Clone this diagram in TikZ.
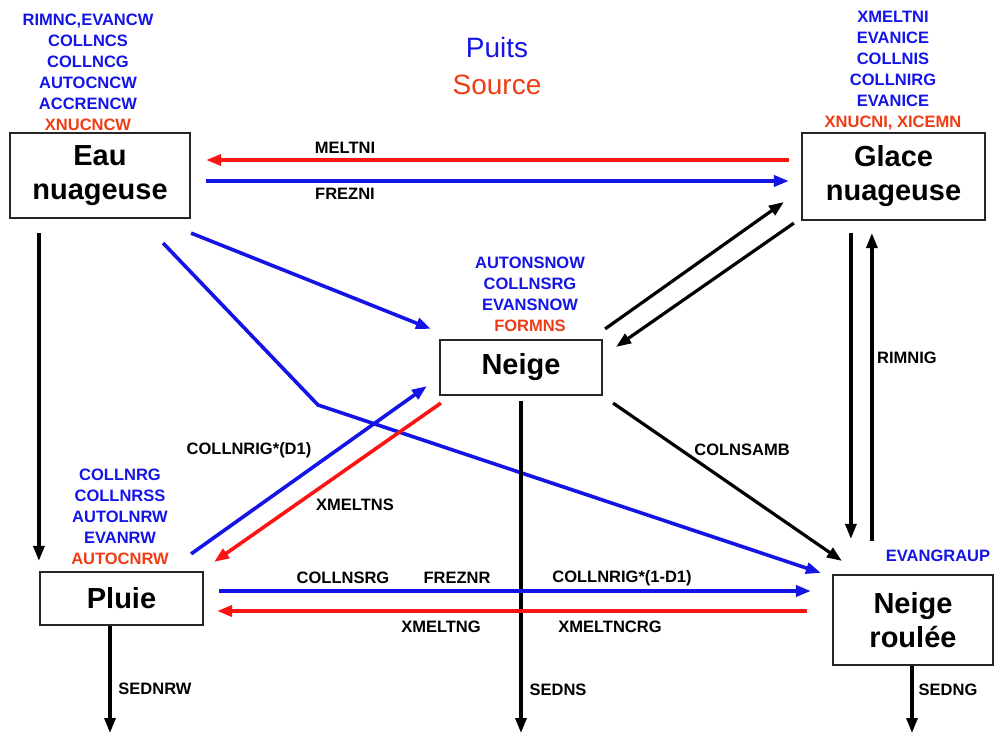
\documentclass[tikz,border=0pt]{standalone}
\usepackage{fontspec}
\setmainfont{Liberation Sans}
\usetikzlibrary{calc,arrows.meta}
\definecolor{pblue}{RGB}{20,20,230}
\definecolor{pred}{RGB}{250,20,20}
\definecolor{lred}{RGB}{240,60,20}
\tikzset{
  box/.style={draw=black!85,line width=2.2pt,fill=white,inner sep=0pt,align=center,
    font=\fontsize{29}{34}\selectfont\bfseries},
  lab/.style={inner sep=0pt,align=center,font=\fontsize{16.5}{21}\selectfont\bfseries},
  tip/.style={-{Triangle[length=15pt,width=11pt]}},
  barr/.style={tip,draw=pblue,line width=3.6pt},
  rarr/.style={tip,draw=pred,line width=3.6pt},
  karr/.style={tip,draw=black,line width=3.2pt},
}
\begin{document}
\begin{tikzpicture}[x=1pt,y=-1pt]
\useasboundingbox (0,0) rectangle (994,735);
% boxes
\node[box,minimum width=180pt,minimum height=85pt] (eau) at (100,175.5) {Eau\\nuageuse};
\node[box,minimum width=183pt,minimum height=87pt] (glace) at (893.5,176.5) {Glace\\nuageuse};
\node[box,minimum width=162pt,minimum height=55pt] (neige) at (521,367.5) {Neige};
\node[box,minimum width=163pt,minimum height=53pt] (pluie) at (121.5,598.5) {Pluie};
\node[box,minimum width=160pt,minimum height=90pt] (roulee) at (913,620) {Neige\\roul\'ee};
% legend
\node[inner sep=0pt,font=\fontsize{28}{30}\selectfont,text=pblue] (puits) at (497,47) {Puits};
\node[inner sep=0pt,font=\fontsize{28}{30}\selectfont,text=lred] (source) at (497,85) {Source};
% label stacks
\node[lab,anchor=south] (eaulab) at (88,131) {\textcolor{pblue}{RIMNC,EVANCW}\\\textcolor{pblue}{COLLNCS}\\\textcolor{pblue}{COLLNCG}\\\textcolor{pblue}{AUTOCNCW}\\\textcolor{pblue}{ACCRENCW}\\\textcolor{lred}{XNUCNCW}};
\node[lab,anchor=south] (glacelab) at (893,130) {\textcolor{pblue}{XMELTNI}\\\textcolor{pblue}{EVANICE}\\\textcolor{pblue}{COLLNIS}\\\textcolor{pblue}{COLLNIRG}\\\textcolor{pblue}{EVANICE}\\\textcolor{lred}{XNUCNI, XICEMN}};
\node[lab,anchor=south] (neigelab) at (530,332) {\textcolor{pblue}{AUTONSNOW}\\\textcolor{pblue}{COLLNSRG}\\\textcolor{pblue}{EVANSNOW}\\\textcolor{lred}{FORMNS}};
\node[lab,anchor=south] (pluielab) at (120,565) {\textcolor{pblue}{COLLNRG}\\\textcolor{pblue}{COLLNRSS}\\\textcolor{pblue}{AUTOLNRW}\\\textcolor{pblue}{EVANRW}\\\textcolor{lred}{AUTOCNRW}};
\node[lab,text=pblue] (evg) at (938,556) {EVANGRAUP};
% connectors
\coordinate (bend) at (318,405);
\coordinate (nsend) at (521,733);
\coordinate (psend) at (110,733);
\coordinate (rsend) at (912,733);
\draw[rarr] ($(glace.west)+(-12,-16.5)$) -- ($(eau.east)+(15,-15.5)$);
\draw[barr] ($(eau.east)+(15,5.5)$) -- ($(glace.west)+(-12,4.5)$);
\draw[karr] ($(eau.south west)+(30,14)$) -- ($(pluie.north west)+(0,-10)$);
\draw[barr] ($(eau.south east)+(0,14)$) -- ($(neige.north west)+(-8,-10)$);
\draw[barr] ($(eau.south east)+(-28,24)$) -- (bend) -- ($(roulee.north west)+(-11,-1)$);
\draw[karr] ($(neige.north east)+(2,-10)$) -- ($(glace.west)+(-17,25.5)$);
\draw[karr] ($(glace.south west)+(-7,2)$) -- ($(neige.north east)+(13,8)$);
\draw[karr] ($(glace.south west)+(50,12)$) -- ($(roulee.north west)+(19,-35)$);
\draw[karr] ($(roulee.north west)+(40,-33)$) -- ($(glace.south west)+(71,12)$);
\draw[karr] ($(neige.south east)+(10,7)$) -- ($(roulee.north west)+(10,-13)$);
\draw[karr] ($(neige.south)+(0,5)$) -- (nsend);
\draw[barr] ($(pluie.north east)+(-13,-17)$) -- ($(neige.south west)+(-12,-10)$);
\draw[rarr] ($(neige.south west)+(2,7)$) -- ($(pluie.north east)+(10,-9)$);
\draw[barr] ($(pluie.east)+(15,-7.5)$) -- ($(roulee.west)+(-21,-29)$);
\draw[rarr] ($(roulee.west)+(-25,-9)$) -- ($(pluie.east)+(13,12.5)$);
\draw[karr] ($(pluie.south)+(-11.5,0)$) -- (psend);
\draw[karr] ($(roulee.south)+(-1,0)$) -- (rsend);
% connector labels
\node[lab] (l1) at (345,148) {MELTNI};
\node[lab] (l2) at (345,194) {FREZNI};
\node[lab] (l3) at (907,358) {RIMNIG};
\node[lab] (l4) at (742,450) {COLNSAMB};
\node[lab] (l5) at (249,450) {COLLNRIG*(D1)};
\node[lab] (l6) at (355,505) {XMELTNS};
\node[lab] (l7) at (343,578) {COLLNSRG};
\node[lab] (l8) at (457,578) {FREZNR};
\node[lab] (l9) at (622,578) {COLLNRIG*(1-D1)};
\node[lab] (l10) at (441,627) {XMELTNG};
\node[lab] (l11) at (610,627) {XMELTNCRG};
\node[lab] (l12) at (558,690) {SEDNS};
\node[lab] (l13) at (155,689) {SEDNRW};
\node[lab] (l14) at (948,690) {SEDNG};
\end{tikzpicture}
\end{document}
